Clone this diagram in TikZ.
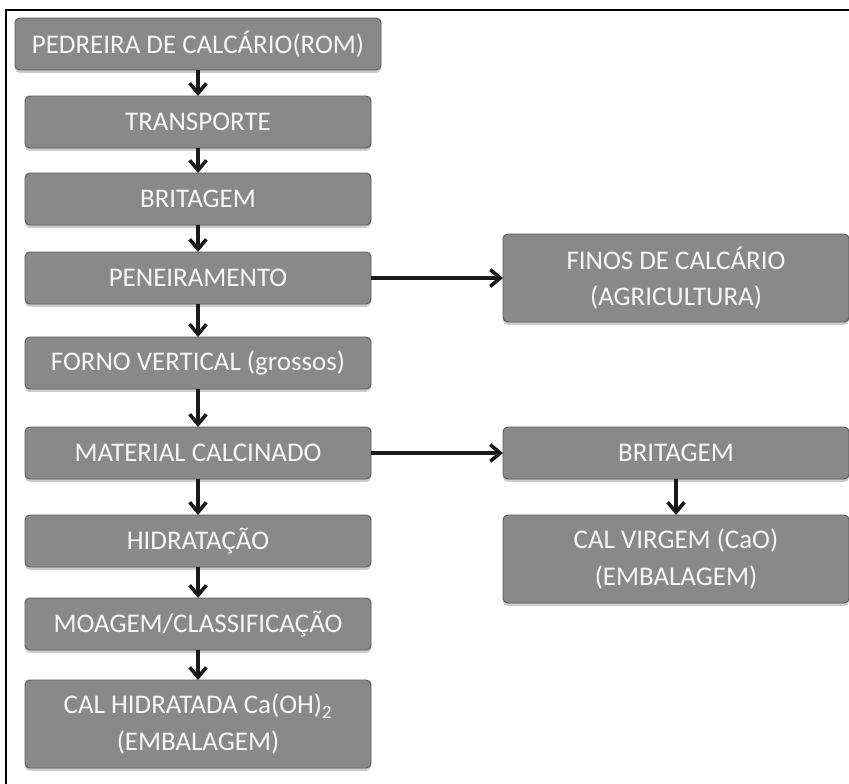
\documentclass[tikz,border=0pt]{standalone}
\usepackage{fontspec}
\setmainfont{Carlito}
\usetikzlibrary{arrows.meta,positioning,shadows}
\definecolor{boxgray}{RGB}{137,137,137}
\definecolor{boxtext}{RGB}{246,246,246}

\begin{document}
\begin{tikzpicture}[
box/.style={draw=boxgray!65!black,line width=0.8pt,fill=boxgray,rounded corners=4pt,align=center,minimum width=10.38cm,minimum height=1.56cm,inner sep=0pt,outer sep=0pt,text=boxtext,font=\fontsize{23}{31}\selectfont,drop shadow={shadow xshift=0pt,shadow yshift=-2.5pt,opacity=0.4}},
tall/.style={minimum height=2.64cm},
arrow/.style={-{Straight Barb[length=3mm,width=5mm]},line width=3pt,draw=black!90}
]
\useasboundingbox (0,0) rectangle (25.47,-23.49);
\draw[line width=1.2pt] (0.18,-0.3) rectangle (25.7,-23.8);
% main line
\node[box,minimum width=10.98cm] (pedreira) at (5.94,-1.32) {PEDREIRA DE CALCÁRIO(ROM)};
\node[box,below=0.78cm of pedreira] (transporte) {TRANSPORTE};
\node[box,below=0.75cm of transporte] (britagem) {BRITAGEM};
\node[box,below=0.81cm of britagem] (peneira) {PENEIRAMENTO};
\node[box,below=0.99cm of peneira] (forno) {FORNO VERTICAL (grossos)};
\node[box,below=1.14cm of forno] (calcinado) {MATERIAL CALCINADO};
\node[box,below=1.08cm of calcinado] (hidrata) {HIDRATAÇÃO};
\node[box,below=0.93cm of hidrata] (moagem) {MOAGEM/CLASSIFICAÇÃO};
\node[box,tall,below=0.9cm of moagem] (calhidra) {CAL HIDRATADA Ca(OH)\textsubscript{2}\\(EMBALAGEM)};
% side branches
\node[box,tall,right=3.96cm of peneira] (finos) {FINOS DE CALCÁRIO\\(AGRICULTURA)};
\node[box,right=3.96cm of calcinado] (britagemb) {BRITAGEM};
\node[box,tall,below=1.08cm of britagemb] (calvirgem) {CAL VIRGEM (CaO)\\(EMBALAGEM)};
\draw[arrow] (pedreira) -- (transporte);
\draw[arrow] (transporte) -- (britagem);
\draw[arrow] (britagem) -- (peneira);
\draw[arrow] (peneira) -- (forno);
\draw[arrow] (forno) -- (calcinado);
\draw[arrow] (calcinado) -- (hidrata);
\draw[arrow] (hidrata) -- (moagem);
\draw[arrow] (moagem) -- (calhidra);
\draw[arrow] (peneira) -- (finos);
\draw[arrow] (calcinado) -- (britagemb);
\draw[arrow] (britagemb) -- (calvirgem);
\end{tikzpicture}
\end{document}
